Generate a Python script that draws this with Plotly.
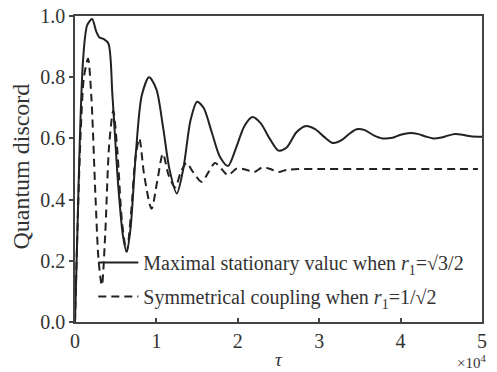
import plotly.graph_objects as go

# Solid curve: maximal stationary value, r1 = sqrt(3)/2
tau_max = [0, 0.03, 0.06, 0.1, 0.15, 0.21, 0.26, 0.3, 0.35, 0.41, 0.46, 0.53, 0.59, 0.635,
           0.68, 0.75, 0.82, 0.91, 1.0, 1.08, 1.16, 1.25, 1.33, 1.42, 1.5, 1.58, 1.68, 1.78,
           1.88, 1.98, 2.08, 2.18, 2.28, 2.39, 2.5, 2.6, 2.72, 2.83, 2.95, 3.06, 3.17, 3.28,
           3.37, 3.46, 3.56, 3.67, 3.78, 3.9, 4.0, 4.12, 4.22, 4.31, 4.4, 4.5, 4.58, 4.67,
           4.76, 4.86, 5.0]
qd_max = [0, 0.3, 0.6, 0.86, 0.97, 0.99, 0.95, 0.93, 0.925, 0.91, 0.74, 0.45, 0.28, 0.23,
          0.3, 0.56, 0.74, 0.80, 0.76, 0.64, 0.5, 0.42, 0.5, 0.66, 0.72, 0.7, 0.62, 0.54,
          0.51, 0.57, 0.64, 0.67, 0.65, 0.6, 0.56, 0.57, 0.62, 0.64, 0.63, 0.605, 0.585, 0.595,
          0.615, 0.63, 0.627, 0.61, 0.6, 0.602, 0.612, 0.618, 0.614, 0.606, 0.6, 0.603, 0.609, 0.614,
          0.612, 0.607, 0.605]

# Dashed curve: symmetrical coupling, r1 = 1/sqrt(2)
tau_sym = [0, 0.03, 0.07, 0.11, 0.16, 0.2, 0.25, 0.29, 0.33, 0.37, 0.42, 0.47, 0.52, 0.58,
           0.635, 0.69, 0.74, 0.79, 0.85, 0.94, 1.01, 1.08, 1.15, 1.23, 1.3, 1.37, 1.45,
           1.556, 1.64, 1.72, 1.8, 1.88, 1.99, 2.11, 2.2, 2.3, 2.4, 2.5, 2.6, 2.75, 3.0,
           3.5, 4.0, 4.5, 4.95]
qd_sym = [0, 0.3, 0.62, 0.8, 0.86, 0.74, 0.42, 0.2, 0.12, 0.28, 0.58, 0.69, 0.56, 0.32,
          0.23, 0.36, 0.53, 0.6, 0.48, 0.37, 0.46, 0.55, 0.48, 0.44, 0.49, 0.52, 0.49,
          0.458, 0.49, 0.52, 0.5, 0.48, 0.502, 0.497, 0.49, 0.505, 0.5, 0.49, 0.497, 0.5, 0.5,
          0.5, 0.5, 0.5, 0.5]

name_max = "Maximal stationary valuc when <i>r</i><sub>1</sub>=√3/2"
name_sym = "Symmetrical coupling when <i>r</i><sub>1</sub>=1/√2"

x_ticks = [0, 1, 2, 3, 4, 5]
y_ticks = [0.0, 0.2, 0.4, 0.6, 0.8, 1.0]

SERIF = "Liberation Serif, Times New Roman, serif"
INK = "#222222"
TXT = "#333333"

fig = go.Figure()
fig.add_trace(go.Scatter(x=tau_max, y=qd_max, mode="lines", name=name_max,
                         legendgroup="a",
                         line=dict(color=INK, width=2, shape="spline", smoothing=0.8)))
fig.add_trace(go.Scatter(x=tau_sym, y=qd_sym, mode="lines", name=name_sym,
                         legendgroup="b",
                         line=dict(color=INK, width=2, dash="8px,5px", shape="spline", smoothing=0.8)))

fig.update_layout(
    width=497, height=372,
    margin=dict(l=75, r=15, t=16, b=50, autoexpand=False),
    paper_bgcolor="white", plot_bgcolor="white",
    font=dict(family=SERIF, size=20, color=TXT),
    showlegend=True,
    legend=dict(x=0.045, y=0.258, xanchor="left", yanchor="top",
                bgcolor="rgba(0,0,0,0)", tracegroupgap=5, itemwidth=40,
                font=dict(family=SERIF, size=20, color=TXT)),
    xaxis=dict(range=[0, 5], tickvals=x_ticks, ticktext=[str(v) for v in x_ticks],
               ticks="inside", ticklen=4, tickcolor="#444", tickwidth=1.5,
               showline=True, linecolor="#444", linewidth=1.5, mirror=True,
               showgrid=False, zeroline=False, automargin=False,
               title=dict(text="<i>τ</i>", font=dict(size=19), standoff=2)),
    yaxis=dict(range=[0, 1], tickvals=y_ticks, ticktext=[f"{v:.1f}" for v in y_ticks],
               ticks="outside", ticklen=4, tickcolor="#444", tickwidth=1.5,
               showline=True, linecolor="#444", linewidth=1.5, mirror=True,
               showgrid=False, zeroline=False, automargin=False),
    annotations=[
        dict(text="Quantum discord", xref="paper", yref="paper",
             x=-0.135, y=0.508, xanchor="center", yanchor="middle", textangle=-90,
             showarrow=False, font=dict(family=SERIF, size=24, color=TXT)),
        dict(text="×10<sup>4</sup>", xref="paper", yref="paper",
             x=1.015, y=-0.095, xanchor="right", yanchor="top",
             showarrow=False, font=dict(family=SERIF, size=15, color=TXT)),
    ],
)

fig.write_html("out.html")
